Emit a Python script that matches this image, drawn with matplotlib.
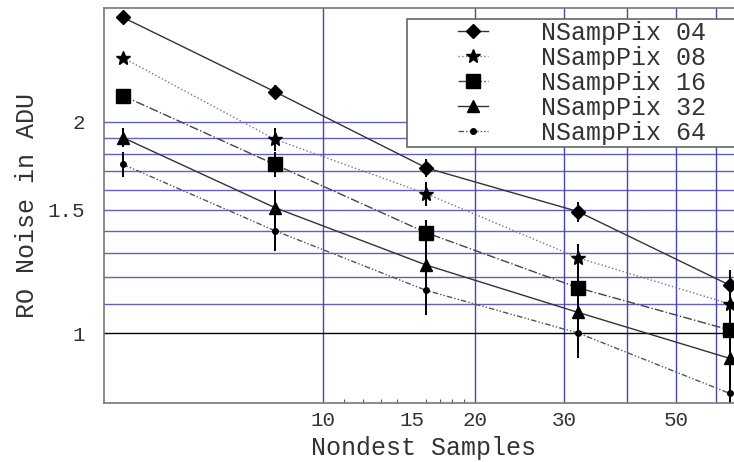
import matplotlib
matplotlib.use("Agg")
import matplotlib.pyplot as plt
from matplotlib.patches import Rectangle
from matplotlib.ticker import FixedFormatter, FixedLocator, NullFormatter, NullLocator

plt.rcParams["font.family"] = ["Liberation Mono", "DejaVu Sans Mono"]

samples = [4, 8, 16, 32, 64]
series_labels = ["NSampPix 04", "NSampPix 08", "NSampPix 16", "NSampPix 32", "NSampPix 64"]
noise_04 = [2.82, 2.21, 1.72, 1.49, 1.17]
noise_08 = [2.47, 1.89, 1.58, 1.28, 1.10]
noise_16 = [2.18, 1.74, 1.39, 1.16, 1.01]
noise_32 = [1.90, 1.51, 1.25, 1.07, 0.92]
noise_64 = [1.74, 1.40, 1.15, 1.00, 0.82]
err_04 = [0.03, 0.05, 0.05, 0.05, 0.06]
err_08 = [0.03, 0.07, 0.06, 0.06, 0.06]
err_16 = [0.05, 0.07, 0.06, 0.06, 0.06]
err_32 = [0.06, 0.09, 0.10, 0.08, 0.07]
err_64 = [0.07, 0.09, 0.09, 0.08, 0.06]

x_tick_values = [10, 15, 20, 30, 50]
x_minor_values = [11, 12, 13, 14, 15, 16, 17, 18, 19]
x_grid_values = [10, 20, 30, 40, 50, 60]
y_tick_values = [1, 1.5, 2]
y_tick_labels = ["1", "1.5", "2"]
y_grid_values = [1.1, 1.2, 1.3, 1.4, 1.5, 1.6, 1.7, 1.8, 1.9, 2.0]

styles = [
    dict(marker="D", markersize=7, linestyle="-", color="#333333"),
    dict(marker="*", markersize=10, linestyle=":", color="#777777"),
    dict(marker="s", markersize=10, linestyle="-.", color="#444444"),
    dict(marker="^", markersize=8, linestyle="-", color="#333333"),
    dict(marker="o", markersize=4, linestyle=(0, (4, 1.5, 1, 1.5, 1, 1.5)), color="#555555"),
]

fig = plt.figure(figsize=(7.34, 4.62), dpi=100)
ax = fig.add_axes([0.1417, 0.1277, 0.8706, 0.855])
ax.set_xscale("log")
ax.set_yscale("log")

grid_color = "#4545b5"
for xv in x_grid_values:
    ax.axvline(xv, color=grid_color, linewidth=1.0, zorder=0)
for yv in y_grid_values:
    ax.axhline(yv, color=grid_color, linewidth=1.0, alpha=0.85, zorder=0)
ax.axhline(1.0, color="black", linewidth=1.0, zorder=0)

all_noise = [noise_04, noise_08, noise_16, noise_32, noise_64]
all_err = [err_04, err_08, err_16, err_32, err_64]
for values, errors, label, style in zip(all_noise, all_err, series_labels, styles):
    ax.errorbar(samples, values, yerr=errors, fmt="none", ecolor="black",
                elinewidth=1.4, capsize=0, zorder=2)
    ax.plot(samples, values, label=label, linewidth=1.0,
            markerfacecolor="black", markeredgecolor="black",
            zorder=3, **style)

ax.set_xlim(3.67, 68)
ax.set_ylim(0.7946, 2.908)

ax.xaxis.set_major_locator(FixedLocator(x_tick_values))
ax.xaxis.set_major_formatter(FixedFormatter([str(v) for v in x_tick_values]))
ax.xaxis.set_minor_locator(FixedLocator(x_minor_values))
ax.xaxis.set_minor_formatter(NullFormatter())
ax.yaxis.set_major_locator(FixedLocator(y_tick_values))
ax.yaxis.set_major_formatter(FixedFormatter(y_tick_labels))
ax.yaxis.set_minor_locator(NullLocator())
ax.tick_params(axis="x", which="major", length=0, labelsize=15, pad=6, colors="#333333")
ax.tick_params(axis="x", which="minor", length=3, width=0.8, color="#555555", direction="in")
ax.tick_params(axis="y", which="major", length=0, labelsize=15, pad=14, colors="#333333")

for spine in ax.spines.values():
    spine.set_color("#777777")
    spine.set_linewidth(1.2)

ax.set_xlabel("Nondest Samples", fontsize=18, color="#333333", labelpad=4)
ax.set_ylabel("RO Noise in ADU", fontsize=18, color="#333333", labelpad=6)

# legend box drawn separately so it can start well left of the handles
box = Rectangle((0.474, 0.648), 0.56, 0.324, transform=ax.transAxes,
                facecolor="white", edgecolor="#666666", linewidth=1.2,
                clip_on=False, zorder=4)
ax.add_patch(box)
leg = ax.legend(loc="upper left", bbox_to_anchor=(0.554, 0.968), fontsize=18,
                handlelength=1.2, handletextpad=2.1, borderpad=0.0,
                labelspacing=0.04, frameon=False, borderaxespad=0.0)
leg.set_zorder(5)
for text in leg.get_texts():
    text.set_color("#333333")

fig.savefig("out.png", dpi=100)
